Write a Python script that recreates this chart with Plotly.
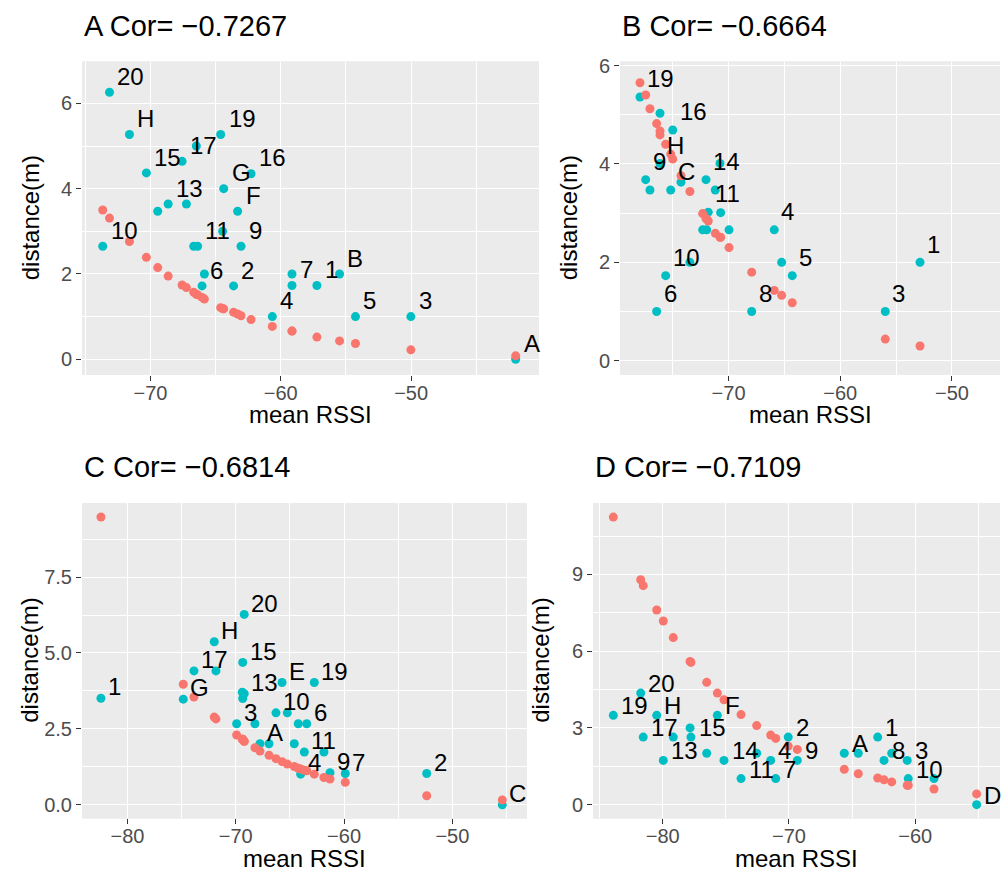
import plotly.graph_objects as go

W, H = 1006, 877
RED = "#F8766D"
CYAN = "#00BFC4"
FONT = "Liberation Sans"

# ---------------- data ----------------
titles = ["A Cor= \u22120.7267", "B Cor= \u22120.6664", "C Cor= \u22120.6814", "D Cor= \u22120.7109"]

a_lab = ["20", "H", "15", "17", "", "19", "16", "G", "F", "", "13", "", "10", "", "11", "", "9", "", "6", "2",
         "", "7", "1", "B", "4", "5", "3", "A"]
a_x = [-73.14, -71.61, -70.31, -67.57, -66.48, -64.61, -62.28, -64.38, -63.31, -69.44, -68.64, -67.24, -73.66,
       -66.68, -66.38, -64.46, -63.05, -65.86, -66.04, -63.62, -59.14, -59.14, -57.23, -55.49, -60.65, -54.27,
       -50.02, -41.98]
a_y = [6.26, 5.27, 4.37, 4.64, 5.00, 5.27, 4.35, 4.00, 3.47, 3.47, 3.64, 3.64, 2.65, 2.65, 2.65, 3.00, 2.65,
       2.00, 1.72, 1.72, 2.00, 1.73, 1.73, 2.00, 1.00, 1.00, 1.00, 0.00]
a_fit = [3.31, 2.76, 2.39, 1.74, 1.52, 1.21, 0.93, 1.18, 1.06, 2.15, 1.95, 1.68, 3.50, 1.57, 1.51, 1.19, 1.02,
         1.41, 1.45, 1.10, 0.66, 0.66, 0.52, 0.43, 0.77, 0.37, 0.22, 0.08]

b_lab = ["19", "", "16", "H", "9", "", "C", "", "14", "", "", "11", "", "", "", "", "4", "10", "", "6", "", "5",
         "8", "1", "3"]
b_x = [-77.93, -76.14, -75.00, -76.14, -77.42, -77.04, -75.18, -74.26, -72.02, -71.19, -70.77, -71.82, -70.71,
       -72.32, -71.96, -69.96, -65.91, -75.63, -73.46, -76.44, -65.25, -64.30, -67.93, -52.86, -55.97]
b_y = [5.36, 5.03, 4.69, 4.01, 3.68, 3.47, 3.47, 3.63, 3.68, 3.47, 4.01, 3.02, 3.01, 2.66, 2.66, 2.66, 2.66,
       1.73, 2.00, 1.00, 2.00, 1.73, 1.00, 2.00, 1.00]
b_fit = [5.65, 4.67, 4.10, 4.59, 5.40, 5.12, 4.20, 3.76, 2.89, 2.59, 2.51, 2.84, 2.51, 2.99, 2.88, 2.30, 1.43,
         4.40, 3.44, 4.82, 1.33, 1.18, 1.80, 0.30, 0.44]

c_lab = ["1", "20", "H", "15", "17", "", "G", "E", "19", "", "13", "", "10", "", "6", "", "3", "", "A", "", "",
         "11", "", "4", "9", "7", "2", "C"]
c_x = [-82.45, -69.22, -71.99, -69.36, -73.86, -71.83, -74.85, -65.73, -62.75, -69.40, -69.22, -69.36, -66.29,
       -65.24, -63.45, -64.23, -69.92, -68.23, -67.77, -66.93, -64.60, -63.67, -61.86, -64.01, -61.30, -59.89,
       -52.37, -45.39]
c_y = [3.51, 6.27, 5.37, 4.69, 4.41, 4.41, 3.48, 4.03, 4.03, 3.71, 3.66, 3.50, 3.03, 3.03, 2.67, 2.67, 2.67,
       2.67, 2.01, 2.01, 2.01, 1.74, 1.74, 1.01, 1.06, 1.03, 1.03, 0.00]
c_fit = [9.48, 2.09, 2.89, 2.16, 3.55, 2.83, 3.97, 1.42, 1.01, 2.16, 2.09, 2.16, 1.52, 1.34, 1.12, 1.20, 2.30,
         1.88, 1.77, 1.63, 1.26, 1.14, 0.90, 1.18, 0.85, 0.74, 0.30, 0.16]

d_lab = ["20", "19", "H", "17", "", "15", "", "F", "13", "", "14", "", "11", "4", "7", "2", "9", "A", "", "1",
         "8", "", "3", "10", "", "D"]
d_x = [-81.75, -83.92, -80.48, -81.55, -79.17, -77.77, -77.84, -75.68, -79.96, -76.52, -75.15, -72.56, -73.80,
       -71.45, -71.05, -70.06, -69.34, -65.62, -64.51, -62.97, -62.47, -61.86, -60.63, -60.55, -58.51, -55.13]
d_y = [4.36, 3.49, 3.49, 2.64, 2.64, 2.64, 3.00, 3.49, 1.73, 2.01, 1.73, 2.01, 1.02, 1.73, 1.02, 2.64, 1.73,
       2.01, 2.01, 2.64, 1.73, 2.01, 1.73, 1.02, 1.02, 0.00]
d_fit = [8.79, 11.24, 7.61, 8.56, 6.53, 5.56, 5.60, 4.36, 7.18, 4.78, 4.10, 3.09, 3.52, 2.72, 2.59, 2.29, 2.16,
         1.38, 1.21, 1.04, 0.97, 0.89, 0.76, 0.76, 0.61, 0.42]

panels = [(a_lab, a_x, a_y, a_fit), (b_lab, b_x, b_y, b_fit), (c_lab, c_x, c_y, c_fit), (d_lab, d_x, d_y, d_fit)]

# ---------------- layout helpers ----------------
# panel pixel boxes: left, right, top, bottom
boxes = [(82, 539, 55, 371), (620, 1000, 55, 371), (82, 527, 500, 818), (593, 1000, 500, 818)]
xranges = [(-75.25, -40.19), (-79.72, -45.70), (-84.20, -43.11), (-85.53, -53.28)]
yranges = [(-0.37, 6.98), (-0.29, 6.08), (-0.45, 9.94), (-0.54, 11.79)]
ydt = [2, 2, 2.5, 3]
yfmt = ["d", "d", ".1f", "d"]
nudge_x, nudge_y = 0.45, 0.37

fig = go.Figure()
annotations = []
for i, (lab, xs, ys, fit) in enumerate(panels):
    k = "" if i == 0 else str(i + 1)
    fig.add_trace(go.Scatter(x=xs, y=ys, mode="markers", xaxis="x" + k, yaxis="y" + k,
                             marker=dict(color=CYAN, size=9), showlegend=False, hoverinfo="skip"))
    fig.add_trace(go.Scatter(x=xs, y=fit, mode="markers", xaxis="x" + k, yaxis="y" + k,
                             marker=dict(color=RED, size=9), showlegend=False, hoverinfo="skip"))
    for t, xv, yv in zip(lab, xs, ys):
        if t:
            annotations.append(dict(x=xv + nudge_x, y=yv + nudge_y, xref="x" + k, yref="y" + k, text=t,
                                    showarrow=False, xanchor="left", yanchor="middle",
                                    font=dict(family=FONT, size=24, color="black")))
    L, R, T, B = boxes[i]
    ax = dict(domain=[L / W, R / W], range=list(xranges[i]), dtick=10, tick0=0, showgrid=True,
              gridcolor="white", gridwidth=1.4, zeroline=False, ticks="outside", ticklen=5, tickwidth=1.2,
              tickcolor="#333333", tickfont=dict(family=FONT, size=20, color="#4D4D4D"),
              ticklabelstandoff=-5,
              minor=dict(dtick=5, tick0=0, showgrid=True, gridcolor="white", gridwidth=0.6, ticks=""),
              anchor="y" + k, showline=False, fixedrange=True)
    ay = dict(domain=[1 - B / H, 1 - T / H], range=list(yranges[i]), dtick=ydt[i], tick0=0, tickformat=yfmt[i],
              showgrid=True, gridcolor="white", gridwidth=1.4, zeroline=False, ticks="outside", ticklen=5,
              tickwidth=1.2, tickcolor="#333333", tickfont=dict(family=FONT, size=20, color="#4D4D4D"),
              minor=dict(dtick=ydt[i] / 2, tick0=0, showgrid=True, gridcolor="white", gridwidth=0.6, ticks=""),
              anchor="x" + k, showline=False, fixedrange=True)
    fig.update_layout(**{"xaxis" + k: ax, "yaxis" + k: ay})
    # panel title
    annotations.append(dict(x=L / W, y=1 - (T - 36) / H, xref="paper", yref="paper", text=titles[i],
                            showarrow=False, xanchor="left", yanchor="middle",
                            font=dict(family=FONT, size=29, color="black")))
    # axis titles
    annotations.append(dict(x=(L + R) / 2 / W, y=1 - (B + 40) / H, xref="paper", yref="paper", text="mean RSSI",
                            showarrow=False, xanchor="center", yanchor="middle",
                            font=dict(family=FONT, size=24, color="black")))
    annotations.append(dict(x=(L - 52) / W, y=1 - (T + B) / 2 / H, xref="paper", yref="paper",
                            text="distance(m)", textangle=-90, showarrow=False, xanchor="center",
                            yanchor="middle", font=dict(family=FONT, size=24, color="black")))

# grey panel backgrounds
shapes = []
for (L, R, T, B) in boxes:
    shapes.append(dict(type="rect", xref="paper", yref="paper", x0=L / W, x1=R / W, y0=1 - B / H, y1=1 - T / H,
                       fillcolor="#EBEBEB", line=dict(width=0), layer="below"))

fig.update_layout(width=W, height=H, margin=dict(l=0, r=0, t=0, b=0), paper_bgcolor="white",
                  plot_bgcolor="#EBEBEB", annotations=annotations, shapes=shapes, showlegend=False)

fig.write_html("out.html")
